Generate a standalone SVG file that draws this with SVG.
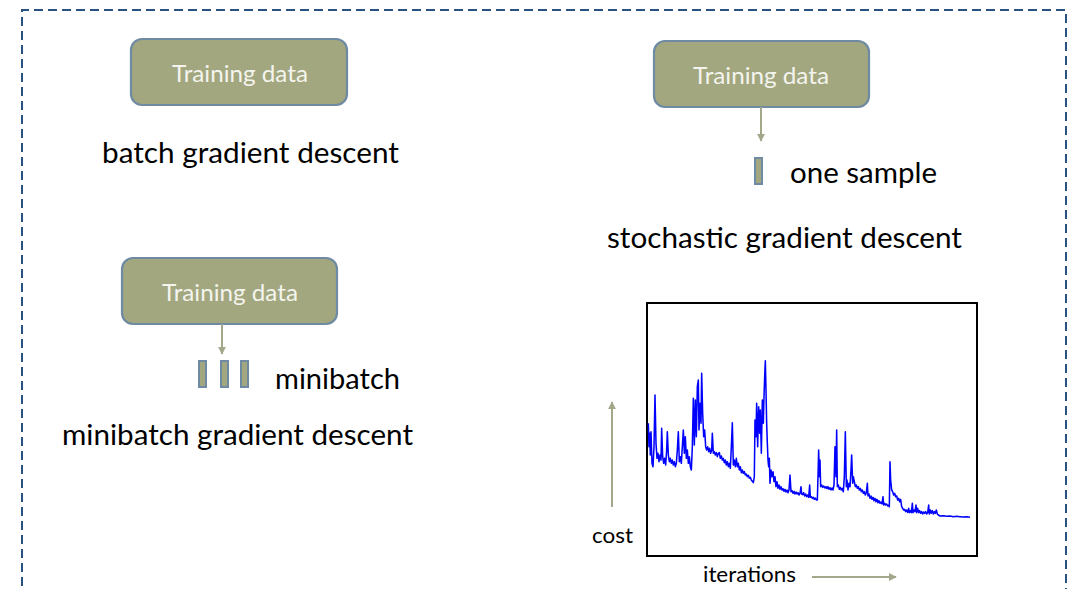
<svg xmlns="http://www.w3.org/2000/svg" width="1079" height="589" viewBox="0 0 1079 589">
  <style>
    .frame { fill: none; stroke: #2a5280; stroke-width: 2; stroke-dasharray: 9 5; }
    .box rect { fill: #a2a77f; stroke: #6f8aa3; stroke-width: 2.2; }
    .box text { fill: #f4f4ee; font-family: "Lato", "Open Sans", sans-serif; font-size: 24px; text-anchor: middle; }
    .label { fill: #000; font-family: "Lato", "Open Sans", sans-serif; font-size: 28px; }
    .axis { fill: #000; font-family: "Lato", "Open Sans", sans-serif; font-size: 21px; }
    .bar { fill: #a2a77f; stroke: #6f8aa3; stroke-width: 2; }
    .link { stroke: #a2a88a; stroke-width: 2; fill: none; }
  </style>
  <defs>
    <marker id="head" viewBox="0 0 10 10" refX="9" refY="5" markerWidth="4" markerHeight="4" orient="auto">
      <path d="M0,0 L10,5 L0,10 Z" fill="#a2a88a"/>
    </marker>
  </defs>

  <rect width="1079" height="589" fill="#fff"/>

  <!-- dashed outer frame, open at the bottom -->
  <path class="frame" d="M22,600 L22,10 L1066,10 L1066,600"/>

  <!-- batch gradient descent -->
  <g id="batch">
    <g class="box">
      <rect x="131" y="39" width="216" height="66" rx="11"/>
      <text x="240" y="82" textLength="136" lengthAdjust="spacingAndGlyphs">Training data</text>
    </g>
    <text class="label" x="102" y="163" textLength="297" lengthAdjust="spacingAndGlyphs">batch gradient descent</text>
  </g>

  <!-- stochastic gradient descent -->
  <g id="stochastic">
    <g class="box">
      <rect x="654" y="41" width="215" height="66" rx="11"/>
      <text x="761" y="84" textLength="136" lengthAdjust="spacingAndGlyphs">Training data</text>
    </g>
    <rect class="bar" x="755" y="158" width="7" height="26"/>
    <text class="label" x="790" y="183" textLength="147" lengthAdjust="spacingAndGlyphs">one sample</text>
    <text class="label" x="607" y="248" textLength="355" lengthAdjust="spacingAndGlyphs">stochastic gradient descent</text>
  </g>

  <!-- minibatch gradient descent -->
  <g id="minibatch">
    <g class="box">
      <rect x="122" y="258" width="215" height="66" rx="11"/>
      <text x="230" y="301" textLength="136" lengthAdjust="spacingAndGlyphs">Training data</text>
    </g>
    <rect class="bar" x="199" y="361" width="7" height="26"/>
    <rect class="bar" x="221" y="361" width="7" height="26"/>
    <rect class="bar" x="241" y="361" width="7" height="26"/>
    <text class="label" x="275" y="389" textLength="125" lengthAdjust="spacingAndGlyphs">minibatch</text>
    <text class="label" x="62" y="445" textLength="351" lengthAdjust="spacingAndGlyphs">minibatch gradient descent</text>
  </g>

  <!-- connectors -->
  <g id="connectors">
    <line class="link" x1="761" y1="107" x2="761" y2="141" marker-end="url(#head)"/>
    <line class="link" x1="222" y1="324" x2="222" y2="354" marker-end="url(#head)"/>
    <line class="link" x1="612" y1="507" x2="612" y2="402" marker-end="url(#head)"/>
    <line class="link" x1="812" y1="577" x2="896" y2="577" marker-end="url(#head)"/>
  </g>

  <!-- cost vs. iterations plot -->
  <g id="plot">
    <rect x="647" y="303" width="330" height="253" fill="#fff" stroke="#000" stroke-width="2"/>
    <path transform="translate(580,290) scale(0.33333)" fill="none" stroke="#0000ff" stroke-width="4.6" stroke-linejoin="round"
      d="M205,400 L207,470 209,430 211,495 213,425 216,520 219,530 222,470 225,315 228,460 231,505 234,490 237,515 240,495 243,510 245,415 248,500 251,520 254,505 257,525 260,480 262,425 265,495 268,515 271,505 274,520 277,510 280,525 283,515 286,530 289,520 292,480 295,425 298,515 301,500 304,520 307,470 310,420 313,490 316,440 319,505 322,480 325,520 328,500 331,530 334,540 337,470 340,325 343,465 346,330 349,440 352,290 355,270 357,420 360,340 363,400 365,250 368,370 371,440 374,420 377,470 380,480 383,470 386,485 389,475 392,490 395,480 397,430 400,490 403,485 406,495 409,488 412,500 415,490 418,488 421,505 424,498 427,510 430,505 433,518 436,510 439,525 442,515 445,530 448,520 451,535 454,470 457,398 460,525 463,510 466,530 469,505 472,530 475,520 478,540 481,530 484,548 487,540 490,550 493,545 496,555 499,552 502,560 505,556 508,565 511,562 514,570 517,574 520,578 523,560 525,390 528,440 530,340 533,470 536,350 539,430 541,360 544,490 547,330 550,400 552,320 554,260 556,212 558,300 560,400 562,460 564,510 566,530 568,505 570,580 573,540 576,560 579,545 582,575 585,560 588,590 591,575 594,595 597,585 600,598 603,590 606,600 609,596 612,604 615,598 618,606 621,600 624,608 627,600 630,555 633,605 636,602 639,610 642,604 645,612 648,606 651,612 654,608 657,615 660,610 663,590 665,612 668,614 671,608 674,618 677,612 680,620 683,615 686,622 689,585 691,622 694,620 697,625 700,622 703,628 706,624 709,630 712,630 714,560 716,480 718,560 720,510 722,590 725,585 728,592 731,588 735,594 738,590 741,596 744,590 747,598 750,593 753,600 756,594 759,600 762,585 765,470 768,560 770,420 772,590 775,585 778,598 781,592 784,600 787,595 790,605 793,560 796,425 799,590 801,570 804,600 807,580 810,590 813,540 815,495 818,580 820,560 823,575 826,590 829,585 832,595 835,590 838,600 841,595 844,605 847,600 850,610 853,605 856,615 859,608 862,580 864,618 867,612 870,625 873,618 876,628 879,622 882,632 885,625 888,635 891,628 894,638 897,632 900,640 903,636 906,642 909,620 911,645 914,640 917,645 920,642 923,648 926,645 928,650 930,515 932,570 935,600 938,605 941,615 944,610 947,620 950,618 953,630 956,625 959,635 962,628 965,650 968,655 971,660 974,658 977,665 980,660 983,667 986,655 988,668 991,662 994,668 997,640 999,668 1002,660 1005,665 1008,645 1010,668 1013,655 1016,668 1019,662 1022,670 1025,665 1028,672 1031,666 1034,670 1037,665 1040,672 1043,668 1046,645 1048,672 1051,660 1054,670 1057,662 1060,672 1063,665 1066,670 1069,660 1072,672 1075,675 1080,678 1090,677 1100,679 1110,678 1120,680 1130,679 1140,680 1150,681 1160,680 1170,682"/>
    <text class="axis" x="592" y="543" textLength="41" lengthAdjust="spacingAndGlyphs">cost</text>
    <text class="axis" x="703" y="582" textLength="93" lengthAdjust="spacingAndGlyphs">iterations</text>
  </g>
</svg>
